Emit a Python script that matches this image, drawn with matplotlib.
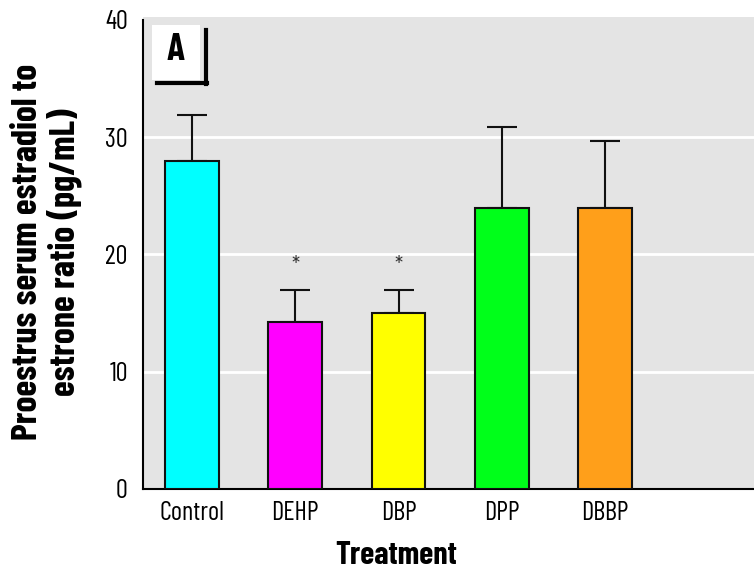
import matplotlib
matplotlib.use('Agg')
import matplotlib.pyplot as plt
from matplotlib.patches import Rectangle
from matplotlib.lines import Line2D

# Dados
tratamentos = ['Control', 'DEHP', 'DBP', 'DPP', 'DBBP']
medias = [28.0, 14.2, 15.0, 24.0, 24.0]
erros = [3.9, 2.8, 2.0, 6.9, 5.7]
cores = ['#00ffff', '#ff00ff', '#ffff00', '#00ff1a', '#ff9f1a']
significativo = [False, True, True, False, False]
grade_y = [10, 20, 30]

plt.rcParams['font.family'] = ['Barlow Condensed', 'Liberation Sans Narrow', 'DejaVu Sans']

W, H = 754, 571
fig = plt.figure(figsize=(W / 100, H / 100), dpi=100)
fig.patch.set_facecolor('white')

ax = fig.add_axes([143 / W, (H - 489) / H, 1 - 143 / W, (489 - 17) / H])
ax.set_facecolor('#e4e4e4')

x = list(range(len(tratamentos)))
ax.bar(x, medias, width=0.52, color=cores, edgecolor='#111111', linewidth=1.5, zorder=3)
ax.errorbar(x, medias, yerr=[[0] * len(erros), erros], fmt='none', ecolor='#111111',
            elinewidth=1.5, capsize=11, capthick=1.5, zorder=2)

for xi, m, e, s in zip(x, medias, erros, significativo):
    if s:
        ax.text(xi, m + e + 2.0, '*', ha='center', va='center', fontsize=16, color='#333333')

for g in grade_y:
    ax.axhline(g, color='white', linewidth=2, zorder=0)

ax.set_xlim(-0.474, 5.44)
ax.set_ylim(0, 40.25)
ax.set_yticks([0, 10, 20, 30, 40])
ax.set_xticks(x)
ax.set_xticklabels(tratamentos, fontsize=19)
ax.tick_params(axis='y', labelsize=19, length=0, pad=11)
ax.tick_params(axis='x', length=0, pad=9)
for lado in ['top', 'right']:
    ax.spines[lado].set_visible(False)
ax.spines['left'].set_bounds(0, 40)
ax.spines['left'].set_linewidth(1.5)
ax.spines['bottom'].set_linewidth(1.5)

# Rotulos dos eixos
fig.text(396 / W, 1 - 555 / H, 'Treatment', ha='center', va='center',
         fontsize=23, fontweight='bold')
fig.text(47 / W, 1 - 252 / H, 'Proestrus serum estradiol to\nestrone ratio (pg/mL)',
         ha='center', va='center', rotation=90, fontsize=26, fontweight='bold',
         linespacing=1.1)

# Caixa com a letra do painel
fig.add_artist(Rectangle((152 / W, 1 - 80 / H), 48 / W, 55 / H, transform=fig.transFigure,
                         facecolor='white', edgecolor='none', zorder=5))
fig.add_artist(Line2D([206 / W, 206 / W], [1 - 30 / H, 1 - 84 / H], transform=fig.transFigure,
                      color='black', linewidth=3, zorder=6))
fig.add_artist(Line2D([157 / W, 207 / W], [1 - 83 / H, 1 - 83 / H], transform=fig.transFigure,
                      color='black', linewidth=3, zorder=6))
fig.text(176 / W, 1 - 50 / H, 'A', ha='center', va='center', fontsize=27,
         fontweight='bold', zorder=7)

fig.savefig('out.png', dpi=100)
